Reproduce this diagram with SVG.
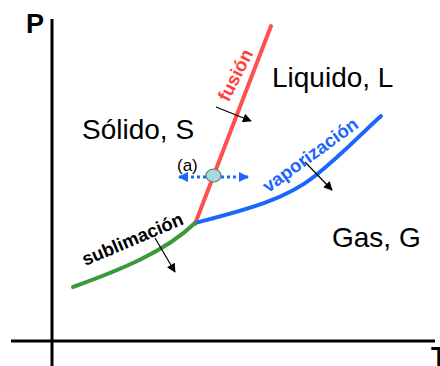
<svg xmlns="http://www.w3.org/2000/svg" width="440" height="366" viewBox="0 0 440 366">
<style>
.ax{stroke:#000;stroke-width:3;fill:none}
.lbl{font-family:"Liberation Sans",Arial,sans-serif;font-size:28px;fill:#000}
.rl{font-family:"Liberation Sans",Arial,sans-serif;font-weight:bold;font-size:18.5px}
.curve{fill:none;stroke-width:4;stroke-linecap:round}
.sm{stroke:#000;stroke-width:1.2;fill:none}
</style>
<defs>
<marker id="ah" viewBox="0 0 10 10" refX="9" refY="5" markerWidth="9" markerHeight="9" markerUnits="userSpaceOnUse" orient="auto">
<path d="M0,0 L10,5 L0,10 Z" fill="#000"/>
</marker>
<marker id="bh" viewBox="0 0 10 10" refX="9" refY="5" markerWidth="10" markerHeight="10" markerUnits="userSpaceOnUse" orient="auto-start-reverse">
<path d="M0,0 L10,5 L0,10 Z" fill="#1a66ff"/>
</marker>
</defs>
<g id="axes">
<line class="ax" x1="52" y1="19" x2="52" y2="366"/>
<line class="ax" x1="11" y1="341" x2="435" y2="341"/>
<text x="26" y="33" font-family="Liberation Sans,Arial,sans-serif" font-weight="bold" font-size="27">P</text>
<text x="431" y="366" font-family="Liberation Sans,Arial,sans-serif" font-weight="bold" font-size="27">T</text>
</g>
<g id="connectors">
<path id="fusion-line" class="curve" stroke="#ff5050" d="M195,224 L271,26"/>
<path id="vap-line" class="curve" stroke="#1a66ff" d="M195,223 C245,210 285,200 315,176 C345,152 365,130 381,116"/>
<path id="sub-line" class="curve" stroke="#3a9a3a" d="M73,287 C120,270 165,252 195,223"/>
<line class="sm" x1="216" y1="107" x2="251" y2="121" marker-end="url(#ah)"/>
<line class="sm" x1="305" y1="162" x2="332" y2="190" marker-end="url(#ah)"/>
<line class="sm" x1="155" y1="238" x2="175" y2="272" marker-end="url(#ah)"/>
<line x1="179" y1="177" x2="248" y2="177" stroke="#1a66ff" stroke-width="3" stroke-dasharray="3 3" marker-start="url(#bh)" marker-end="url(#bh)"/>
</g>
<g id="point-a">
<ellipse cx="213.5" cy="175.5" rx="7.5" ry="6.5" fill="#a8d8d8" stroke="#5f7777" stroke-width="1.2"/>
<text x="177" y="171" font-family="Liberation Sans,Arial,sans-serif" font-size="17">(a)</text>
</g>
<g id="solid"><text class="lbl" x="82" y="139">Sólido, S</text></g>
<g id="liquid"><text class="lbl" x="272" y="87">Liquido, L</text></g>
<g id="gas"><text class="lbl" x="332" y="247">Gas, G</text></g>
<g id="fusion-label"><text class="rl" fill="#ff4040" text-anchor="middle" transform="translate(241,78) rotate(-63)">fusión</text></g>
<g id="vap-label"><text class="rl" fill="#1a66ff" text-anchor="middle" transform="translate(314,160) rotate(-36)">vaporización</text></g>
<g id="sub-label"><text class="rl" fill="#000" text-anchor="middle" transform="translate(135,245) rotate(-23)">sublimación</text></g>
</svg>
